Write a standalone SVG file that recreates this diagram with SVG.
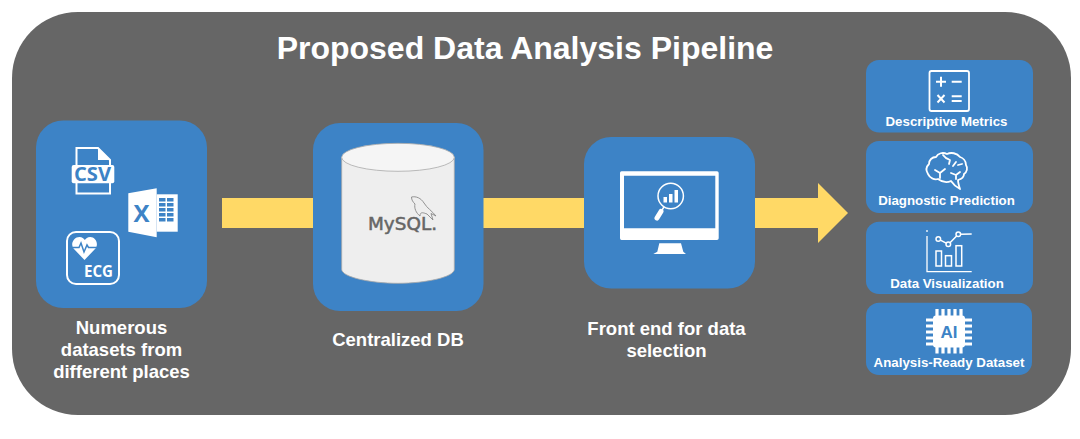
<svg xmlns="http://www.w3.org/2000/svg" width="1080" height="439" viewBox="0 0 1080 439">
<style>
.box{fill:#3d83c6}
.t{font-family:"Liberation Sans",Arial,sans-serif;font-weight:700;fill:#fff;text-anchor:middle}
.lab{font-size:18.500px}
.sm{font-size:13.300px}
.ic{font-family:"Open Sans","Noto Sans",sans-serif;font-weight:700;text-anchor:middle}
.ln{fill:none;stroke:#fff;stroke-width:1.800;stroke-linecap:round;stroke-linejoin:round}
.w{fill:#fff}
.b{fill:#3d83c6}
</style>
<rect width="1080" height="439" fill="#fff"/>
<rect id="panel" x="12" y="12" width="1059" height="403" rx="66" ry="66" fill="#666"/>
<text id="title" class="t" x="525" y="59" font-size="32">Proposed Data Analysis Pipeline</text>
<g id="connectors">
<polygon points="222,198 818,198 818,183 848,213 818,243 818,228 222,228" fill="#ffd966"/>
</g>
<g id="node-datasets">
<rect class="box" x="36" y="120.500" width="171" height="187.500" rx="27"/>
<path d="M76.500,148 H98 L110,160 V193.500 H76.500 Z" fill="none" stroke="#fff" stroke-width="2"/>
<path class="w" d="M98,148 L110,160 H98 Z"/>
<rect class="w" x="71.700" y="165" width="42.600" height="18.300" rx="2"/>
<text class="ic" x="92.500" y="180.700" font-size="19.500" fill="#3d83c6" textLength="37" lengthAdjust="spacingAndGlyphs">CSV</text>
<polygon class="w" points="128.300,193.300 156.700,188.300 156.700,237.300 128.300,231.700"/>
<rect class="w" x="156.700" y="194.300" width="21" height="37.400"/>
<g class="b"><rect x="159" y="198" width="6.500" height="3.500"/><rect x="167" y="198" width="6.500" height="3.500"/><rect x="159" y="203" width="6.500" height="3.500"/><rect x="167" y="203" width="6.500" height="3.500"/><rect x="159" y="208" width="6.500" height="3.500"/><rect x="167" y="208" width="6.500" height="3.500"/><rect x="159" y="213" width="6.500" height="3.500"/><rect x="167" y="213" width="6.500" height="3.500"/><rect x="159" y="218" width="6.500" height="3.500"/><rect x="167" y="218" width="6.500" height="3.500"/></g>
<text class="ic" x="141.500" y="222" font-size="24" fill="#3d83c6">X</text>
<rect x="67" y="232" width="52" height="52" rx="9" fill="none" stroke="#fff" stroke-width="2"/>
<path class="w" d="M84.500,260 L73.500,248.500 C70,243.500 74,237 79.500,237 C82,237 84,238.500 84.800,240 C85.800,238.500 87.500,237 90.200,237 C95.500,237 99,243.500 95.500,248.500 Z"/>
<path d="M71,247.500 H79 L81,243 L84,252 L87,245 L88.500,247.500 H98" fill="none" stroke="#3d83c6" stroke-width="1.500"/>
<text class="ic" x="98.500" y="277" font-size="15.500" fill="#fff" textLength="29" lengthAdjust="spacingAndGlyphs">ECG</text>
<text class="t lab" x="121.500" y="334">Numerous</text>
<text class="t lab" x="121.500" y="356">datasets from</text>
<text class="t lab" x="121.500" y="378">different places</text>
</g>
<g id="node-db">
<rect class="box" x="313" y="123" width="170.500" height="188" rx="27"/>
<path d="M341.700,157.300 V269.300 C341.700,277 370,283.300 398,283.300 C426,283.300 454.300,277 454.300,269.300 V157.300 Z" fill="#eee" stroke="#aaa" stroke-width="0.800"/>
<ellipse cx="398" cy="157.300" rx="56.300" ry="14" fill="#f5f5f5" stroke="#aaa" stroke-width="0.800"/>
<text x="368" y="230" font-family="'DejaVu Sans',sans-serif" font-size="17" fill="#666" stroke="#666" stroke-width="0.500" textLength="69" lengthAdjust="spacingAndGlyphs">MySQL.</text>
<path d="M411.500,197 C416,196 421,198 424,203 C427,208 432,211 436,216 L431,213.500 L433,220 L427,214 C424,213 420,211 420,216 C416,213 414,208 415,204 C413,202 411.500,200 411.500,197 Z" fill="none" stroke="#888" stroke-width="0.900"/>
<text class="t lab" x="398" y="346">Centralized DB</text>
</g>
<g id="node-frontend">
<rect class="box" x="584" y="137" width="171" height="151.500" rx="27"/>
<path class="w" fill-rule="evenodd" d="M621.500,171.300 H717 Q718.700,171.300 718.700,173 V238.300 Q718.700,240 717,240 H621.500 Q620,240 620,238.300 V173 Q620,171.300 621.500,171.300 Z M624,175.700 V228.300 H715.300 V175.700 Z"/>
<polygon class="w" points="659.300,243.300 681,243.300 683.300,251.700 686,254 653.300,254 657.300,251.700"/>
<circle cx="670.700" cy="196" r="12.700" fill="none" stroke="#fff" stroke-width="1.500"/>
<rect class="w" x="663.500" y="197" width="3.500" height="5.500"/><rect class="w" x="669" y="194" width="3.500" height="8.500"/><rect class="w" x="674.500" y="190" width="3.500" height="12.500"/>
<path d="M664,207 L662,210" stroke="#fff" stroke-width="1.500"/>
<path d="M661,211.500 L657,218" stroke="#fff" stroke-width="5" stroke-linecap="round"/>
<text class="t lab" x="666.500" y="335">Front end for data</text>
<text class="t lab" x="666.500" y="357">selection</text>
</g>
<g id="node-metrics">
<rect class="box" x="866" y="60" width="167" height="72.500" rx="13"/>
<rect x="929.500" y="71" width="39.500" height="40" rx="2" fill="none" stroke="#fff" stroke-width="1.800"/>
<path d="M936,81.700 H946 M941,76.700 V86.700 M951.700,81.700 H961.700 M937.500,95 L944.500,102.500 M944.500,95 L937.500,102.500 M951.700,96.300 H961.700 M951.700,101 H961.700" fill="none" stroke="#fff" stroke-width="2"/>
<text class="t sm" x="946.500" y="126">Descriptive Metrics</text>
</g>
<g id="node-diagnostic">
<rect class="box" x="866" y="141" width="167" height="72" rx="13"/>
<path class="ln" d="M951,181 C953,184 956,187 960,189 C959,186 958,183 958,180 C962,179 964,177 964,174 C967,172 968,168 966,165 C966,161 963,158 960,157 C957,153 951,152 947,154 C943,152 938,153 936,157 C932,157 929,160 929,164 C926,167 926,171 928,174 C930,178 934,180 938,179 C942,182 947,183 951,181 Z"/>
<path class="ln" d="M943,155 C945,158 947,159 950,160 M950,160 L949,164 M956,162 L953,166 M958,165 L962,164 M935,170 L940,173 L945,169 M940,173 V178 M951,173 L956,175 L960,172 M956,175 V179"/>
<text class="t sm" x="946.500" y="204.500">Diagnostic Prediction</text>
</g>
<g id="node-visualization">
<rect class="box" x="866" y="221.700" width="167" height="72.300" rx="13"/>
<path d="M927,230 V232 M927,236 V271.700 H971.700" fill="none" stroke="#fff" stroke-width="1.300"/>
<g fill="none" stroke="#fff" stroke-width="1.500">
<rect x="936" y="251" width="5.500" height="15"/><rect x="945.500" y="255.700" width="6" height="10.300"/><rect x="956" y="245.700" width="5.700" height="20.300"/>
<circle cx="938.300" cy="239" r="2.300"/><circle cx="948.300" cy="244.300" r="2.300"/><circle cx="958.300" cy="234.300" r="2.300"/>
<path d="M940.400,240.100 L946.200,243.200 M950,242.700 L956.600,236 M960.600,234.300 L971.700,234"/>
</g>
<text class="t sm" x="947" y="287.500">Data Visualization</text>
</g>
<g id="node-dataset">
<rect class="box" x="866" y="302.700" width="166" height="72.300" rx="13"/>
<rect class="w" x="933" y="315.500" width="32" height="32" rx="3"/>
<path d="M926,320 H934 M926,326 H934 M926,332 H934 M926,338 H934 M926,344 H934 M964,320 H972 M964,326 H972 M964,332 H972 M964,338 H972 M964,344 H972 M937,309 V317 M943,309 V317 M949,309 V317 M955,309 V317 M961,309 V317 M937,346 V353.500 M943,346 V353.500 M949,346 V353.500 M955,346 V353.500 M961,346 V353.500" stroke="#fff" stroke-width="3.200" fill="none"/>
<text class="t" x="949" y="337.500" font-size="17" style="fill:#3d83c6">AI</text>
<text class="t sm" x="949" y="367">Analysis-Ready Dataset</text>
</g>
</svg>
